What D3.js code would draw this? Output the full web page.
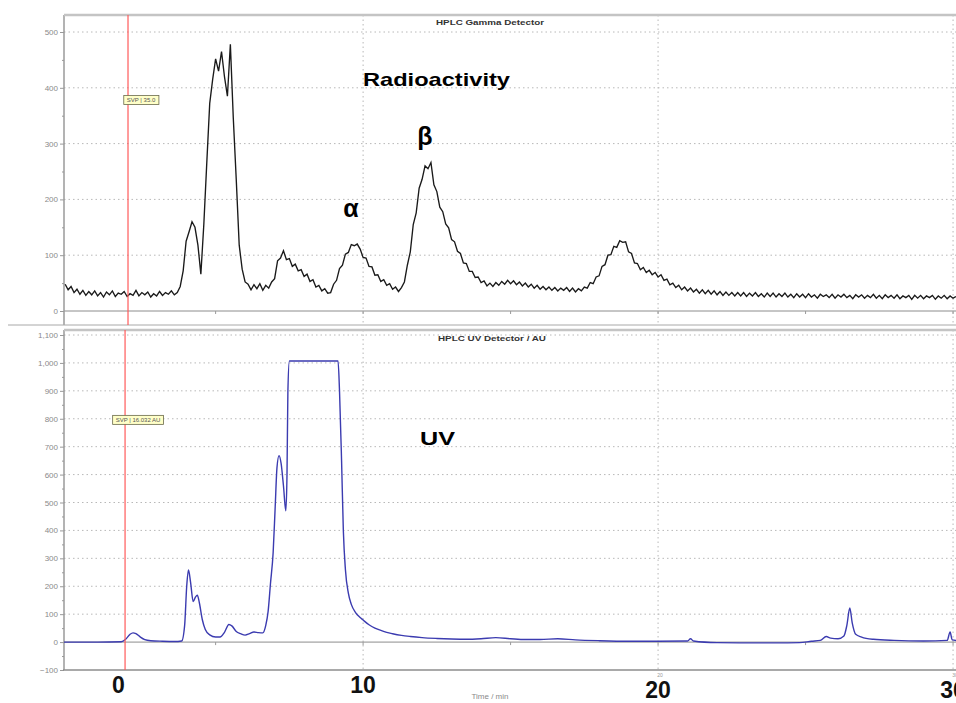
<!DOCTYPE html>
<html>
<head>
<meta charset="utf-8">
<script src="https://cdn.jsdelivr.net/npm/d3@7"></script>
<style>
  body { margin: 0; background: #fff; }
  svg { display: block; font-family: 'Liberation Sans', Arial, sans-serif; }
</style>
</head>
<body>
<div class="chart"></div>
<script>
// gamma detector counts, one reading every 0.1 min starting at -0.1 min
const gammaStart = -0.1;
const gammaStep = 0.1;
const gammaCounts = [
  48,38,44,33,39,30,37,28,35,29,
  36,27,33,25,34,29,36,26,32,30,
  35,26,31,28,37,27,33,29,34,25,
  31,27,35,28,33,30,36,29,33,44,
  72,125,142,160,150,118,66,155,265,372,
  415,452,430,465,420,385,478,345,235,118,
  75,52,48,38,47,40,49,37,46,41,
  52,58,90,95,108,92,94,80,84,72,
  74,62,66,53,56,43,46,36,40,32,
  33,48,55,76,82,102,105,119,117,120,
  111,96,95,80,79,64,65,53,56,46,
  49,39,43,35,42,52,82,106,155,176,
  220,236,260,255,266,226,214,186,178,156,
  149,128,124,107,103,86,85,71,71,60,
  61,51,54,45,50,44,51,46,53,48,
  55,49,54,47,52,45,50,43,48,41,
  46,39,44,38,43,37,42,36,41,37,
  42,35,41,34,40,36,43,41,51,49,
  61,63,80,83,100,101,116,114,126,123,
  124,106,103,86,85,74,78,69,73,65,
  69,61,65,55,57,47,50,42,46,38,
  43,36,41,34,39,32,38,31,37,30,
  36,29,35,28,34,28,33,27,33,27,
  33,26,32,27,33,26,31,25,32,26,
  32,25,31,26,32,25,30,24,31,25,
  30,24,31,25,29,23,30,26,29,24,
  30,23,29,25,30,24,28,22,29,25,
  29,23,28,24,30,23,28,22,29,24,
  28,23,29,22,27,24,28,21,28,23,
  28,22,27,24,28,21,27,23,28,22,
  27,23,26
];

// UV detector absorbance (AU scale as printed)
const uvTime = [
  -0.2, 1.0, 1.8, 1.95, 2.1, 2.2, 2.3, 2.45, 2.6, 2.8, 3.2, 3.6, 3.85, 3.95,
  4.02, 4.08, 4.15, 4.24, 4.32, 4.38, 4.45, 4.55, 4.65, 4.8, 5.0, 5.15, 5.3,
  5.45, 5.55, 5.7, 5.85, 6.0, 6.15, 6.3, 6.45, 6.6, 6.7, 6.78, 6.86, 6.95,
  7.02, 7.08, 7.15, 7.22, 7.3, 7.38, 7.42, 7.45, 7.5, 9.15, 9.2, 9.27, 9.33,
  9.4, 9.5, 9.6, 9.75, 9.9, 10.0, 10.2, 10.4, 10.6, 10.8, 11.0, 11.3, 11.6,
  12.0, 12.5, 13.0, 13.5, 14.0, 14.5, 15.0, 15.5, 16.0, 16.6, 17.2, 18.0,
  19.0, 20.0, 21.0, 21.1, 21.2, 22.0, 23.0, 24.0, 24.8, 25.2, 25.5, 25.7,
  25.85, 26.1, 26.3, 26.4, 26.5, 26.58, 26.7, 26.9, 27.3, 28.0, 29.0, 29.8,
  29.9, 29.97, 30.2
];
const uvValue = [
  0, 0, 1, 10, 28, 33, 30, 18, 9, 5, 3, 2, 4, 60,
  200, 258, 215, 145, 162, 168, 140, 80, 45, 26, 18, 18, 35,
  63, 58, 38, 30, 25, 30, 36, 34, 33, 60, 110, 210, 320,
  485, 625, 668, 640, 560, 470, 600, 896, 1007, 1007, 900, 650, 400,
  260, 175, 135, 105, 88, 79, 62, 50, 42, 35, 30, 24, 20,
  16, 13, 11, 10, 12, 16, 12, 9, 9, 12, 8, 5,
  3, 3, 4, 12, 4, -2, -3, -3, -2, 3, 6, 20,
  14, 12, 22, 60, 122, 70, 28, 18, 10, 6, 4, 6,
  36, 8, 5
];

const topTicks = [0, 100, 200, 300, 400, 500];
const topMinorTicks = [50, 150, 250, 350, 450];
const bottomTicks = [-100, 0, 100, 200, 300, 400, 500, 600, 700, 800, 900, 1000, 1100];
const bottomMinorTicks = [-50, 50, 150, 250, 350, 450, 550, 650, 750, 850, 950, 1050];
const gridTimes = [10, 20, 30];
const zeroTickTimes = [5, 10, 15, 20, 25, 30];
const originalTimeLabels = [20, 30];
const bigTimeTicks = [1.7, 10, 20, 30];
const bigTimeLabels = ['0', '10', '20', '30'];

const width = 956;
const height = 703;
const left = 64;

const svg = d3.select('.chart')
  .append('svg')
  .attr('width', width)
  .attr('height', height);

svg.append('rect').attr('width', width).attr('height', height).attr('fill', '#fff');

const xScale = d3.scaleLinear().domain([-0.14, 30.1]).range([left, width]);
const yTop = d3.scaleLinear().domain([0, 500]).range([311, 32]);
const yBottom = d3.scaleLinear().domain([-100, 1100]).range([670, 335]);

const panels = [
  { id: 'top', y: yTop, y0: 15, y1: 325, ticks: topTicks, minor: topMinorTicks },
  { id: 'bottom', y: yBottom, y0: 330, y1: 670, ticks: bottomTicks, minor: bottomMinorTicks }
];

const defs = svg.append('defs');
panels.forEach(p => {
  defs.append('clipPath').attr('id', 'clip-' + p.id)
    .append('rect')
    .attr('x', left).attr('y', p.y0)
    .attr('width', width - left).attr('height', p.y1 - p.y0);
});

panels.forEach(p => {
  const g = svg.append('g');

  // dotted grid
  g.selectAll('.hgrid')
    .data(p.ticks.filter(d => d > 0))
    .enter()
    .append('line')
    .attr('x1', left).attr('x2', width)
    .attr('y1', d => p.y(d)).attr('y2', d => p.y(d))
    .attr('stroke', '#b8b8b8')
    .attr('stroke-dasharray', '1.5,3');

  g.selectAll('.vgrid')
    .data(gridTimes)
    .enter()
    .append('line')
    .attr('x1', d => xScale(d)).attr('x2', d => xScale(d))
    .attr('y1', p.y0).attr('y2', p.y1)
    .attr('stroke', '#b8b8b8')
    .attr('stroke-dasharray', '1.5,3');

  // zero line
  g.append('line')
    .attr('x1', left).attr('x2', width)
    .attr('y1', p.y(0)).attr('y2', p.y(0))
    .attr('stroke', '#8c8c8c');

  g.selectAll('.ztick')
    .data(zeroTickTimes)
    .enter()
    .append('line')
    .attr('x1', d => xScale(d)).attr('x2', d => xScale(d))
    .attr('y1', p.y(0)).attr('y2', p.y(0) + 3)
    .attr('stroke', '#999');

  const yAxis = d3.axisLeft(p.y)
    .tickValues(p.ticks)
    .tickSize(4)
    .tickPadding(2)
    .tickFormat(d3.format(','));
  const axisG = g.append('g')
    .attr('transform', `translate(${left}, 0)`)
    .call(yAxis);
  axisG.select('.domain').remove();
  axisG.selectAll('line').attr('stroke', '#999');
  axisG.selectAll('text')
    .attr('fill', '#8a8a8a')
    .style('font-size', '8px');

  const minorG = g.append('g')
    .attr('transform', `translate(${left}, 0)`)
    .call(d3.axisLeft(p.y).tickValues(p.minor).tickSize(2).tickFormat(''));
  minorG.select('.domain').remove();
  minorG.selectAll('line').attr('stroke', '#999');

  g.append('line')
    .attr('x1', left).attr('x2', left)
    .attr('y1', p.y0).attr('y2', p.y1)
    .attr('stroke', '#9a9a9a')
    .attr('stroke-width', 1.5);
});

// panel frames
svg.append('line').attr('x1', left).attr('x2', width).attr('y1', 15).attr('y2', 15)
  .attr('stroke', '#c4c4c4').attr('stroke-width', 2.5);
svg.append('line').attr('x1', 8).attr('x2', width).attr('y1', 325).attr('y2', 325)
  .attr('stroke', '#a8a8a8');
svg.append('line').attr('x1', left).attr('x2', width).attr('y1', 330).attr('y2', 330)
  .attr('stroke', '#c4c4c4').attr('stroke-width', 2.5);
svg.append('line').attr('x1', left - 1).attr('x2', width).attr('y1', 670).attr('y2', 670)
  .attr('stroke', '#8c8c8c').attr('stroke-width', 1.5);

// traces
const gammaLine = d3.line()
  .x((d, i) => xScale(gammaStart + i * gammaStep))
  .y(d => yTop(d));

svg.append('path')
  .datum(gammaCounts)
  .attr('clip-path', 'url(#clip-top)')
  .attr('d', gammaLine)
  .attr('fill', 'none')
  .attr('stroke', '#1a1a1a')
  .attr('stroke-width', 1.35);

const uvLine = d3.line()
  .x((d, i) => xScale(uvTime[i]))
  .y(d => yBottom(d))
  .curve(d3.curveMonotoneX);

svg.append('path')
  .datum(uvValue)
  .attr('clip-path', 'url(#clip-bottom)')
  .attr('d', uvLine)
  .attr('fill', 'none')
  .attr('stroke', '#3b3bb0')
  .attr('stroke-width', 1.4);

// cursor lines with value boxes
const cursors = [
  { time: 2.03, y0: 15, y1: 325, scale: yTop, value: 378, label: 'SVP | 35.0' },
  { time: 1.93, y0: 330, y1: 670, scale: yBottom, value: 796, label: 'SVP | 16.032 AU' }
];

cursors.forEach(c => {
  svg.append('line')
    .attr('x1', xScale(c.time)).attr('x2', xScale(c.time))
    .attr('y1', c.y0).attr('y2', c.y1)
    .attr('stroke', '#ff5a5a')
    .attr('stroke-width', 1.2);

  const box = svg.append('g');
  const t = box.append('text')
    .attr('x', xScale(c.time) + 13)
    .attr('y', c.scale(c.value) + 2)
    .attr('text-anchor', 'middle')
    .attr('fill', '#555')
    .style('font-size', '6px')
    .text(c.label);
  const bb = t.node().getBBox();
  box.insert('rect', 'text')
    .attr('x', bb.x - 3).attr('y', c.scale(c.value) - 4.5)
    .attr('width', bb.width + 6).attr('height', 9)
    .attr('fill', '#ffffc8')
    .attr('stroke', '#6a6a4a')
    .attr('stroke-width', 0.8);
});

// detector titles
svg.append('text')
  .attr('x', 490).attr('y', 25)
  .attr('text-anchor', 'middle')
  .attr('textLength', 108).attr('lengthAdjust', 'spacingAndGlyphs')
  .attr('fill', '#333').style('font-size', '7px').style('font-weight', 'bold')
  .text('HPLC Gamma Detector');

svg.append('text')
  .attr('x', 492).attr('y', 341)
  .attr('text-anchor', 'middle')
  .attr('textLength', 108).attr('lengthAdjust', 'spacingAndGlyphs')
  .attr('fill', '#333').style('font-size', '7px').style('font-weight', 'bold')
  .text('HPLC UV Detector / AU');

// annotations
svg.append('text')
  .attr('x', 363).attr('y', 86)
  .attr('textLength', 147).attr('lengthAdjust', 'spacingAndGlyphs')
  .style('font-size', '19px').style('font-weight', 'bold')
  .text('Radioactivity');

svg.append('text')
  .attr('x', 351).attr('y', 217)
  .attr('text-anchor', 'middle')
  .style('font-size', '25px').style('font-weight', 'bold')
  .text('α');

svg.append('text')
  .attr('x', 425).attr('y', 145)
  .attr('text-anchor', 'middle')
  .style('font-size', '25px').style('font-weight', 'bold')
  .text('β');

svg.append('text')
  .attr('x', 420).attr('y', 445)
  .attr('textLength', 35).attr('lengthAdjust', 'spacingAndGlyphs')
  .style('font-size', '19px').style('font-weight', 'bold')
  .text('UV');

// original small time labels
svg.selectAll('.small-time')
  .data(originalTimeLabels)
  .enter()
  .append('text')
  .attr('x', d => xScale(d) + 2)
  .attr('y', 677)
  .attr('text-anchor', 'middle')
  .attr('fill', '#999')
  .style('font-size', '5px')
  .text(d => d);

svg.append('text')
  .attr('x', 490).attr('y', 699)
  .attr('text-anchor', 'middle')
  .attr('fill', '#8a8a8a')
  .style('font-size', '8px')
  .text('Time / min');

// large hand-added time labels
svg.selectAll('.big-time')
  .data(bigTimeTicks)
  .enter()
  .append('text')
  .attr('x', d => xScale(d))
  .attr('y', (d, i) => i < 2 ? 693 : 698)
  .attr('text-anchor', 'middle')
  .attr('fill', '#111')
  .style('font-size', '23px')
  .style('font-weight', 'bold')
  .text((d, i) => bigTimeLabels[i]);
</script>
</body>
</html>
